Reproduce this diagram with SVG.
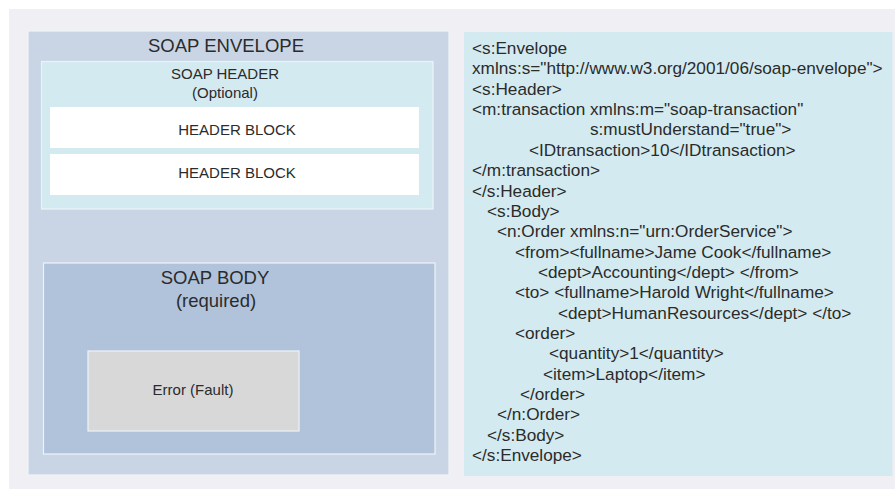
<svg xmlns="http://www.w3.org/2000/svg" width="895" height="489" viewBox="0 0 895 489">
  <style>
    text { font-family: "Liberation Sans", Arial, sans-serif; fill: #2b2b2b; }
    .title { font-size: 18.5px; text-anchor: middle; }
    .label { font-size: 15px; text-anchor: middle; }
    .code { font-size: 17.2px; }
    .edge { stroke: #eef3f8; stroke-width: 1.2; }
  </style>
  <rect x="0" y="0" width="895" height="489" fill="#ffffff"/>
  <rect id="canvas" x="9" y="9" width="886" height="480" fill="#f0eff4"/>

  <g id="envelope">
    <rect class="edge" x="28" y="31" width="421" height="444" fill="#c9d5e5"/>
    <text class="title" x="226" y="52">SOAP ENVELOPE</text>
  </g>

  <g id="header">
    <rect class="edge" x="41.5" y="61.5" width="391.5" height="147.5" fill="#d3eaf0"/>
    <text class="label" x="225" y="79">SOAP HEADER</text>
    <text class="label" x="225" y="98">(Optional)</text>
  </g>

  <g id="header-block-1">
    <rect x="50" y="107" width="369" height="41" fill="#ffffff"/>
    <text class="label" x="237" y="135">HEADER BLOCK</text>
  </g>

  <g id="header-block-2">
    <rect x="50" y="154" width="369" height="41" fill="#ffffff"/>
    <text class="label" x="237" y="178">HEADER BLOCK</text>
  </g>

  <g id="body">
    <rect class="edge" x="43.5" y="263" width="391.5" height="191" fill="#b0c3db"/>
    <text class="title" x="215" y="284">SOAP BODY</text>
    <text class="title" x="216" y="307">(required)</text>
  </g>

  <g id="fault">
    <rect class="edge" x="88" y="351" width="211" height="80" fill="#d8d8d8"/>
    <text class="label" x="193" y="395">Error (Fault)</text>
  </g>

  <g id="xml-sample">
    <rect x="464" y="32" width="428.5" height="444" fill="#d3eaf0"/>
    <text class="code" x="472" y="54">&lt;s:Envelope</text>
    <text class="code" x="472" y="74.4">xmlns:s="http://www.w3.org/2001/06/soap-envelope"&gt;</text>
    <text class="code" x="472" y="94.7">&lt;s:Header&gt;</text>
    <text class="code" x="472" y="115.1">&lt;m:transaction xmlns:m="soap-transaction"</text>
    <text class="code" x="590" y="135.4">s:mustUnderstand="true"&gt;</text>
    <text class="code" x="529" y="155.8">&lt;IDtransaction&gt;10&lt;/IDtransaction&gt;</text>
    <text class="code" x="472" y="176.1">&lt;/m:transaction&gt;</text>
    <text class="code" x="472" y="196.5">&lt;/s:Header&gt;</text>
    <text class="code" x="487" y="216.8">&lt;s:Body&gt;</text>
    <text class="code" x="497" y="237.2">&lt;n:Order xmlns:n="urn:OrderService"&gt;</text>
    <text class="code" x="515" y="257.5">&lt;from&gt;&lt;fullname&gt;Jame Cook&lt;/fullname&gt;</text>
    <text class="code" x="538" y="277.9">&lt;dept&gt;Accounting&lt;/dept&gt; &lt;/from&gt;</text>
    <text class="code" x="515" y="298.2">&lt;to&gt; &lt;fullname&gt;Harold Wright&lt;/fullname&gt;</text>
    <text class="code" x="558" y="318.6">&lt;dept&gt;HumanResources&lt;/dept&gt; &lt;/to&gt;</text>
    <text class="code" x="515" y="338.9">&lt;order&gt;</text>
    <text class="code" x="549" y="359.3">&lt;quantity&gt;1&lt;/quantity&gt;</text>
    <text class="code" x="543" y="379.6">&lt;item&gt;Laptop&lt;/item&gt;</text>
    <text class="code" x="520" y="400">&lt;/order&gt;</text>
    <text class="code" x="497" y="420.3">&lt;/n:Order&gt;</text>
    <text class="code" x="487" y="440.7">&lt;/s:Body&gt;</text>
    <text class="code" x="472" y="461">&lt;/s:Envelope&gt;</text>
  </g>

  <g id="connectors"/>
</svg>
